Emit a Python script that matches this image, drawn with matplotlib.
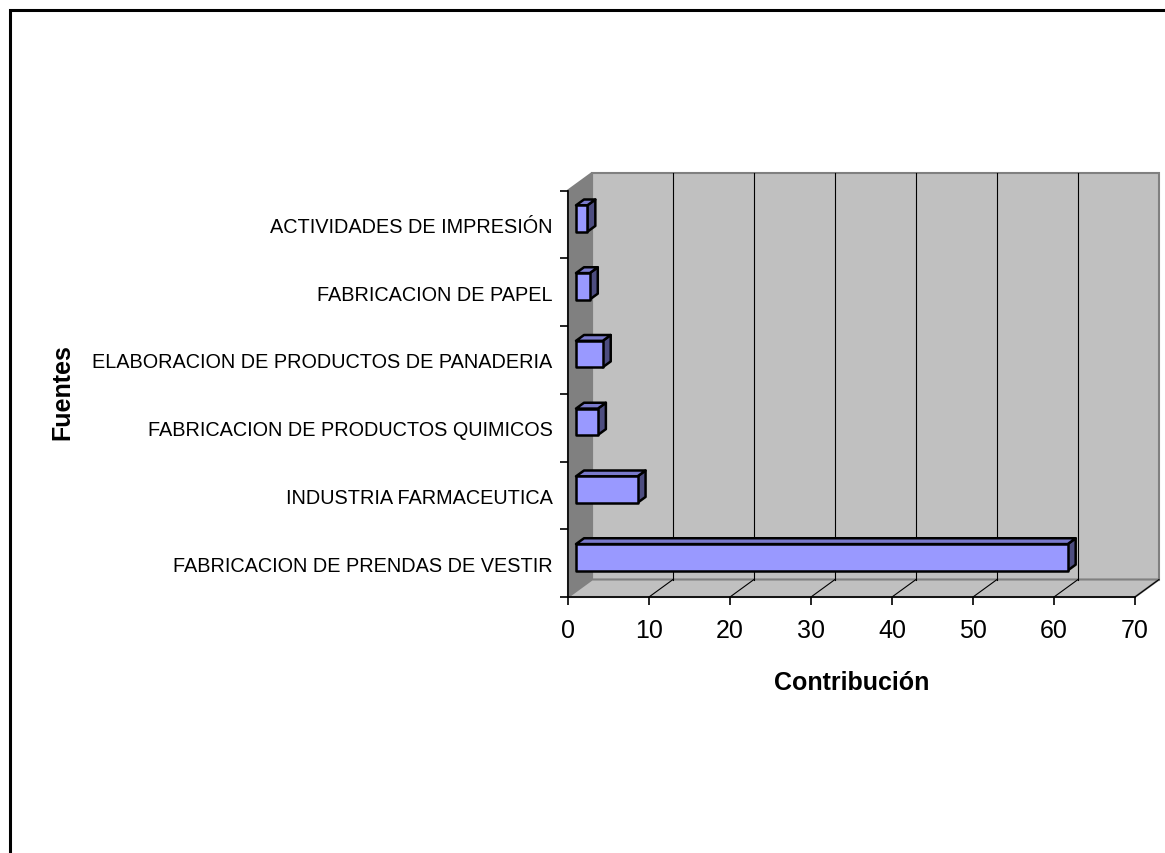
import matplotlib
matplotlib.use("Agg")
import matplotlib.pyplot as plt
from matplotlib.patches import Polygon, Rectangle

plt.rcParams['font.family'] = ['Liberation Sans', 'DejaVu Sans']

# datos (de abajo hacia arriba)
fuentes = [
    "FABRICACION DE PRENDAS DE VESTIR",
    "INDUSTRIA FARMACEUTICA",
    "FABRICACION DE PRODUCTOS QUIMICOS",
    "ELABORACION DE PRODUCTOS DE PANADERIA",
    "FABRICACION DE PAPEL",
    "ACTIVIDADES DE IMPRESIÓN",
]
contribucion = [60.7, 7.6, 2.7, 3.3, 1.7, 1.4]
x_ticks = [0, 10, 20, 30, 40, 50, 60, 70]

W, H = 1165, 854
fig = plt.figure(figsize=(W / 100, H / 100), dpi=100)

# marco exterior (solo se ven los lados izquierdo y superior)
fig.patches.append(Rectangle((9.5 / W, -0.05), 1.1, (854 - 10.5) / H + 0.05,
                             transform=fig.transFigure, fill=False,
                             edgecolor='black', linewidth=2.2))

# plano frontal del grafico
x0, x1, y_bot, y_top = 568, 1135, 598, 191.5
ax = fig.add_axes([x0 / W, (H - y_bot) / H, (x1 - x0) / W, (y_bot - y_top) / H])
ax.set_xlim(0, 70)
ax.set_ylim(0, len(fuentes))
ax.patch.set_visible(False)

# profundidad 3D en unidades de datos
DX = 24 / ((x1 - x0) / 70)
DY = 17.5 / ((y_bot - y_top) / len(fuentes))
n = len(fuentes)
xmax = x_ticks[-1]

wall_kw = dict(clip_on=False, linewidth=1.5, edgecolor='#808080')
# pared del fondo
ax.add_patch(Polygon([(DX, DY), (xmax + DX, DY), (xmax + DX, n + DY), (DX, n + DY)],
                     facecolor='#C0C0C0', zorder=0, **wall_kw))
# pared lateral
ax.add_patch(Polygon([(0, 0), (DX, DY), (DX, n + DY), (0, n)],
                     facecolor='#808080', zorder=0, **wall_kw))
# piso
ax.add_patch(Polygon([(0, 0), (xmax, 0), (xmax + DX, DY), (DX, DY)],
                     facecolor='#C0C0C0', zorder=0, **wall_kw))

# lineas de division en el fondo y el piso
for v in x_ticks[1:-1]:
    ax.plot([v + DX, v + DX], [DY, n + DY], color='black', lw=0.8, clip_on=False, zorder=1)
for v in x_ticks[1:]:
    ax.plot([v, v + DX], [0, DY], color='black', lw=0.8, clip_on=False, zorder=1)

# barras 3D
hh = 0.195
for i, val in enumerate(contribucion):
    c = i + 0.5
    bx0, bx1 = DX / 3, val + DX / 3
    yb, yt = c - hh + DY / 3, c + hh + DY / 3
    dx, dy = DX / 3, DY / 3
    bar_kw = dict(edgecolor='black', linewidth=1.8, joinstyle='round', clip_on=False, zorder=3)
    ax.add_patch(Polygon([(bx1, yb), (bx1 + dx, yb + dy), (bx1 + dx, yt + dy), (bx1, yt)],
                         facecolor='#4D4D80', **bar_kw))
    ax.add_patch(Polygon([(bx0, yt), (bx1, yt), (bx1 + dx, yt + dy), (bx0 + dx, yt + dy)],
                         facecolor='#7A7ACC', **bar_kw))
    ax.add_patch(Polygon([(bx0, yb), (bx1, yb), (bx1, yt), (bx0, yt)],
                         facecolor='#9999FF', **bar_kw))

# ejes
for s in ['top', 'right']:
    ax.spines[s].set_visible(False)
for s in ['left', 'bottom']:
    ax.spines[s].set_color('black')
    ax.spines[s].set_linewidth(1.2)
    ax.spines[s].set_zorder(2)

ax.set_xticks(x_ticks)
ax.set_xticklabels([str(v) for v in x_ticks], fontsize=18)
ax.tick_params(axis='x', direction='out', length=6, width=1.2, pad=9)

ax.set_yticks(range(n + 1))
ax.set_yticklabels([])
ax.set_yticks([i + 0.5 for i in range(n)], minor=True)
ax.set_yticklabels(fuentes, minor=True, fontsize=14.3)
ax.tick_params(axis='y', which='major', direction='out', length=6, width=1.2)
ax.tick_params(axis='y', which='minor', length=0, pad=11)

ax.set_xlabel("Contribución", fontsize=18, fontweight='bold')
ax.xaxis.set_label_coords(0.5, (y_bot - 683) / (y_bot - y_top))
ax.xaxis.label.set_va('center')
ax.set_ylabel("Fuentes", fontsize=18, fontweight='bold')
ax.yaxis.set_label_coords((62 - x0) / (x1 - x0), (y_bot - 392) / (y_bot - y_top))
ax.yaxis.label.set_va('center')

fig.savefig("out.png", dpi=100)
